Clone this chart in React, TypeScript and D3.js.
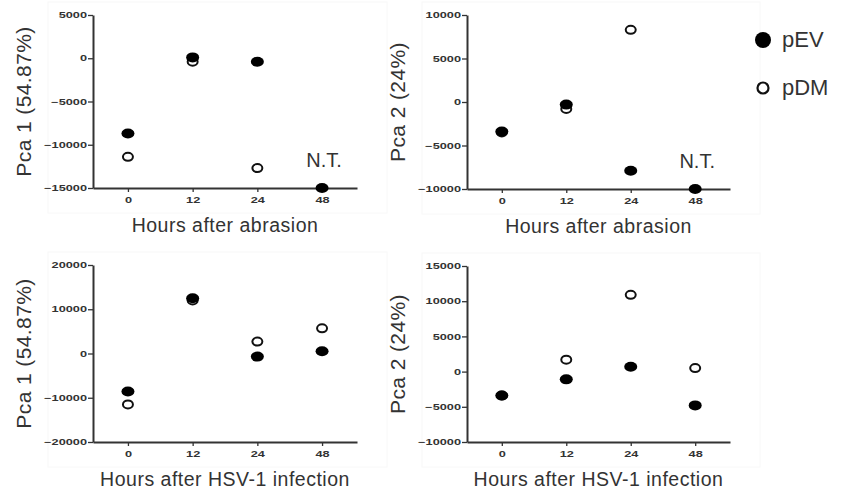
import React, { useEffect, useRef } from "react";
import * as d3 from "d3";

const hours = ["0", "12", "24", "48"];

// PCA scores (null = not tested)
const abrasionPc1EV = [-8700, 100, -400, -15000];
const abrasionPc1DM = [-11400, -400, -12700, null];
const abrasionPc2EV = [-3400, -300, -7900, -10000];
const abrasionPc2DM = [-3500, -800, 8300, null];
const hsvPc1EV = [-8600, 12500, -700, 500];
const hsvPc1DM = [-11500, 12000, 2700, 5700];
const hsvPc2EV = [-3400, -1100, 700, -4800];
const hsvPc2DM = [-3400, 1700, 10900, 500];

const pc1Label = "Pca 1 (54.87%)";
const pc2Label = "Pca 2 (24%)";
const abrasionLabel = "Hours after abrasion";
const hsvLabel = "Hours after HSV-1 infection";
const legendLabels = ["pEV", "pDM"];

const FONT = "'Liberation Sans', Arial, Helvetica, sans-serif";
const INK = "#333";

const panels = [
  { ev: abrasionPc1EV, dm: abrasionPc1DM, domain: [-15000, 5000], step: 5000, yTitle: pc1Label, xTitle: abrasionLabel, nt: true,
    left: 93, right: 357, top: 15, bottom: 188 },
  { ev: abrasionPc2EV, dm: abrasionPc2DM, domain: [-10000, 10000], step: 5000, yTitle: pc2Label, xTitle: abrasionLabel, nt: true,
    left: 467, right: 730, top: 15, bottom: 189 },
  { ev: hsvPc1EV, dm: hsvPc1DM, domain: [-20000, 20000], step: 10000, yTitle: pc1Label, xTitle: hsvLabel, nt: false,
    left: 93, right: 357, top: 265, bottom: 442 },
  { ev: hsvPc2EV, dm: hsvPc2DM, domain: [-10000, 15000], step: 5000, yTitle: pc2Label, xTitle: hsvLabel, nt: false,
    left: 467, right: 730, top: 266, bottom: 442 },
];

const drawPanel = (svg, p) => {
  const x = d3.scalePoint().domain(hours).range([p.left, p.right]).padding(0.54);
  const y = d3.scaleLinear().domain(p.domain).range([p.bottom, p.top]);

  // faint frame around each graph, like the pasted prism panels
  svg
    .append("rect")
    .attr("x", p.left - 45)
    .attr("y", p.top - 13)
    .attr("width", p.right - p.left + 75)
    .attr("height", p.bottom - p.top + 38)
    .attr("fill", "none")
    .attr("stroke", "#f8f8f8");

  const ticks = d3.range(p.domain[0], p.domain[1] + 1, p.step);

  const gy = svg
    .append("g")
    .attr("transform", `translate(${p.left},0)`)
    .call(d3.axisLeft(y).tickValues(ticks).tickSize(5).tickSizeOuter(0).tickFormat(d3.format("d")));

  const gx = svg
    .append("g")
    .attr("transform", `translate(0,${p.bottom})`)
    .call(d3.axisBottom(x).tickSize(4).tickSizeOuter(0));

  [gy, gx].forEach((g) => {
    g.select(".domain").attr("stroke", INK).attr("stroke-width", 2);
    g.selectAll(".tick line").attr("stroke", INK).attr("stroke-width", 1.3);
    g.selectAll(".tick text")
      .attr("fill", INK)
      .attr("font-family", FONT)
      .attr("font-weight", "bold")
      .attr("font-size", 8.5);
  });
  // tick labels are stretched sideways in the original
  gy.selectAll(".tick text").attr("x", -4).attr("transform", "scale(1.5,1)");
  gx.selectAll(".tick text").attr("y", 9).attr("transform", "scale(1.5,1)");

  // open markers first, filled ones sit on top
  svg
    .append("g")
    .selectAll("ellipse")
    .data(p.dm.map((v, i) => ({ h: hours[i], v })).filter((d) => d.v !== null))
    .join("ellipse")
    .attr("cx", (d) => x(d.h))
    .attr("cy", (d) => y(d.v))
    .attr("rx", 5)
    .attr("ry", 4)
    .attr("fill", "#fff")
    .attr("stroke", "#111")
    .attr("stroke-width", 2);

  svg
    .append("g")
    .selectAll("ellipse")
    .data(p.ev.map((v, i) => ({ h: hours[i], v })).filter((d) => d.v !== null))
    .join("ellipse")
    .attr("cx", (d) => x(d.h))
    .attr("cy", (d) => y(d.v))
    .attr("rx", 6.5)
    .attr("ry", 5)
    .attr("fill", "#000");

  svg
    .append("text")
    .attr("x", (p.left + p.right) / 2)
    .attr("y", p.bottom + 44)
    .attr("text-anchor", "middle")
    .attr("font-family", FONT)
    .attr("font-size", 19.5)
    .attr("letter-spacing", 0.5)
    .attr("fill", INK)
    .text(p.xTitle);

  svg
    .append("text")
    .attr("transform", `translate(${p.left - 62},${(p.top + p.bottom) / 2}) rotate(-90)`)
    .attr("text-anchor", "middle")
    .attr("font-family", FONT)
    .attr("font-size", 21)
    .attr("letter-spacing", 0.4)
    .attr("fill", INK)
    .text(p.yTitle);

  if (p.nt) {
    svg
      .append("text")
      .attr("x", x("48") + 2)
      .attr("y", p.bottom - 21)
      .attr("text-anchor", "middle")
      .attr("font-family", FONT)
      .attr("font-size", 20)
      .attr("fill", INK)
      .text("N.T.");
  }
};

const drawChart = (node) => {
  const svg = d3.select(node);
  svg.selectAll("*").remove();

  panels.forEach((p) => drawPanel(svg, p));

  // legend
  const legend = svg.append("g").attr("transform", "translate(763,0)");
  legend.append("circle").attr("cx", 0).attr("cy", 40).attr("r", 8).attr("fill", "#000");
  legend
    .append("circle")
    .attr("cx", 0)
    .attr("cy", 88)
    .attr("r", 5.5)
    .attr("fill", "#fff")
    .attr("stroke", "#111")
    .attr("stroke-width", 2.2);
  legend
    .selectAll("text")
    .data(legendLabels)
    .join("text")
    .attr("x", 19)
    .attr("y", (d, i) => 47 + i * 48)
    .attr("font-family", FONT)
    .attr("font-size", 22)
    .attr("fill", INK)
    .text((d) => d);
};

export default function App() {
  const ref = useRef(null);

  useEffect(() => {
    drawChart(ref.current);
  }, []);

  return (
    <svg
      ref={ref}
      width={844}
      height={494}
      style={{ position: "absolute", left: 0, top: 0, background: "#fff" }}
    />
  );
}
